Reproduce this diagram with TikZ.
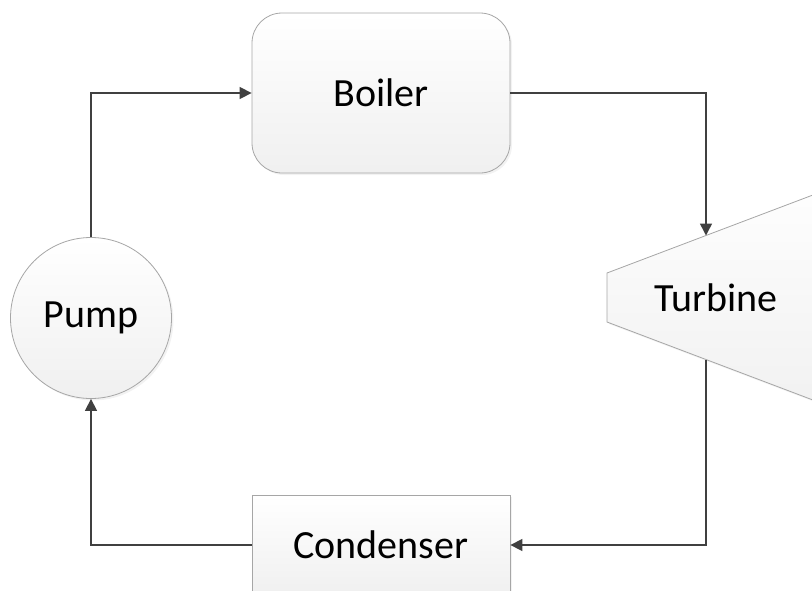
\documentclass[tikz,border=0pt]{standalone}
\usepackage{fontspec}
\setmainfont{Carlito}
\usetikzlibrary{arrows.meta,shadows}
\definecolor{edgegray}{HTML}{A6A6A6}
\definecolor{linegray}{HTML}{404040}
\begin{document}
\begin{tikzpicture}[x=1pt,y=-1pt,
  unit/.style={draw=edgegray, line width=0.8pt, top color=white, bottom color=black!6,
    font=\fontsize{40}{48}\selectfont, text=black,
    drop shadow={opacity=0.10, shadow xshift=2pt, shadow yshift=-2pt}},
  flow/.style={draw=linegray, line width=1.5pt, -{Triangle[length=12pt,width=12pt]}},
  plain/.style={draw=linegray, line width=1.5pt}]
\useasboundingbox (0,0) rectangle (812,590);
\clip (0,0) rectangle (812,590);
% Turbine (trapezoid running off the right edge)
\path[unit] (607,273) -- (607,322) -- (900,433) -- (900,162) -- cycle;
\node[font=\fontsize{40}{48}\selectfont] (turb) at (716,298) {Turbine};
\coordinate (tin) at (706,235.5);
\coordinate (tout) at (706,359.5);
% Boiler
\node[unit, rectangle, rounded corners=30pt, minimum width=258pt, minimum height=160pt, inner sep=0pt] (boiler) at (381,93) {Boiler};
% Pump
\node[unit, circle, minimum size=161pt, inner sep=0pt] (pump) at (91,318) {Pump};
% Condenser
\node[unit, rectangle, minimum width=258pt, minimum height=100pt, inner sep=0pt] (cond) at (381,545) {Condenser};
% Connectors
\draw[flow] (pump.north) |- (boiler.west);
\draw[flow] (boiler.east) -| (tin);
\draw[flow] (tout) |- (cond.east);
\draw[flow] (cond.west) -| (pump.south);
\end{tikzpicture}
\end{document}
